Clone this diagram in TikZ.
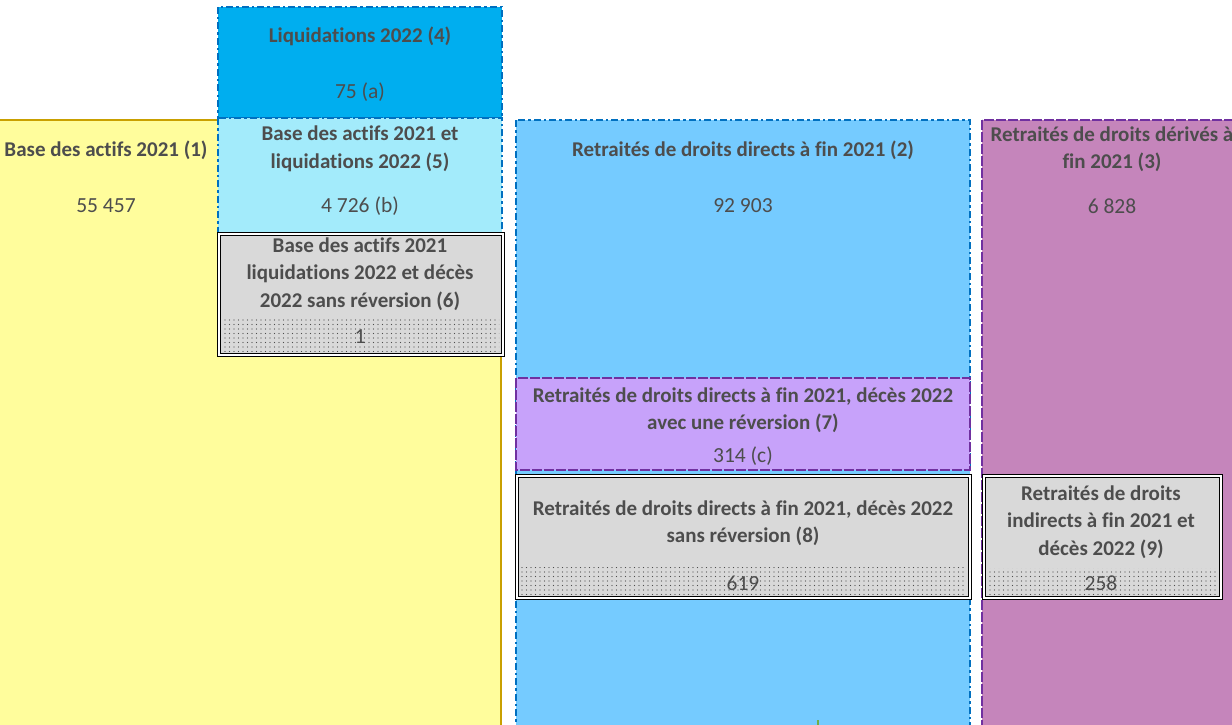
\documentclass[tikz,border=0pt]{standalone}
\usepackage{fontspec}
\setmainfont[Ligatures=NoCommon]{Carlito}
\usetikzlibrary{patterns.meta}
\definecolor{txt}{HTML}{4D4D4D}
\definecolor{yfill}{HTML}{FFFD9C}
\definecolor{yline}{HTML}{C9A000}
\definecolor{bline}{HTML}{0070C0}
\definecolor{b4fill}{HTML}{00AEEF}
\definecolor{b5fill}{HTML}{A3EBFB}
\definecolor{b2fill}{HTML}{75CBFF}
\definecolor{pfill}{HTML}{C585BB}
\definecolor{pline}{HTML}{7030A0}
\definecolor{p7fill}{HTML}{C7A2FA}
\definecolor{gfill}{HTML}{D9D9D9}
\definecolor{tick}{HTML}{70AD47}
\tikzset{
  ttl/.style={text=txt, align=center, inner sep=0pt, font=\bfseries\fontsize{21}{27.5}\selectfont},
  num/.style={text=txt, align=center, inner sep=0pt, font=\fontsize{21.5}{24}\selectfont},
  bluebox/.style={draw=bline, line width=1.3pt, dash pattern=on 7pt off 3pt on 2.5pt off 3pt},
  purplebox/.style={draw=pline, line width=1.3pt, dash pattern=on 10pt off 2pt},
  graybox/.style={fill=gfill, draw=black, line width=1.4pt, double=white, double distance=1.1pt},
  dotband/.style={pattern={Dots[distance=4.5pt, radius=0.7pt]}, pattern color=black!70}
}
\begin{document}
\begin{tikzpicture}[x=1pt,y=-1pt]
\useasboundingbox (0,0) rectangle (1232,725);
\clip (0,0) rectangle (1232,725);
\fill[white] (0,0) rectangle (1232,725);
% (1) yellow
\path[fill=yfill] (-5,120) rectangle (501,740);
\draw[yline, line width=1.5pt] (-5,120) -- (501,120) -- (501,740);
% (2) blue
\path[fill=b2fill, bluebox] (516,120) rectangle (970,740);
% (3) purple
\path[fill=pfill, purplebox] (982,120) rectangle (1250,740);
% (4)
\path[fill=b4fill, bluebox] (218,7) rectangle (502,118);
% (5)
\path[fill=b5fill, bluebox] (218,118) rectangle (502,233);
% (6)
\path[graybox] (219,234) rectangle (503,355);
\path[dotband] (223,318) rectangle (499,351);
% (7)
\path[fill=p7fill, purplebox] (516,378) rectangle (970,470);
% (8)
\path[graybox] (517,476) rectangle (970,598);
\path[dotband] (521,567) rectangle (966,594);
% (9)
\path[graybox] (984,476) rectangle (1221,598);
\path[dotband] (988,568) rectangle (1217,594);
% green tick
\coordinate (tk1) at (818,720);
\coordinate (tk2) at (818,726);
\draw[tick, line width=1.5pt] (tk1) -- (tk2);
% texts
\node[ttl] (t1) at (106,150) {Base des actifs 2021 (1)};
\node[num] (n1) at (106,206) {55 457};
\node[ttl] (t4) at (360,36) {Liquidations 2022 (4)};
\node[num] (n4) at (360,92) {75 (a)};
\node[ttl] (t5) at (360,149) {Base des actifs 2021 et\\liquidations 2022 (5)};
\node[num] (n5) at (360,206) {4 726 (b)};
\node[ttl] (t6) at (360,274) {Base des actifs 2021\\liquidations 2022 et décès\\2022 sans réversion (6)};
\node[num] (n6) at (360,337) {1};
\node[ttl] (t2) at (743,150) {Retraités de droits directs à fin 2021 (2)};
\node[num] (n2) at (743,206) {92 903};
\node[ttl] (t3) at (1112,149) {Retraités de droits dérivés à\\fin 2021 (3)};
\node[num] (n3) at (1112,206) {6 828};
\node[ttl] (t7) at (743,410) {Retraités de droits directs à fin 2021, décès 2022\\avec une réversion (7)};
\node[num] (n7) at (743,456) {314 (c)};
\node[ttl] (t8) at (743,523) {Retraités de droits directs à fin 2021, décès 2022\\sans réversion (8)};
\node[num] (n8) at (743,583) {619};
\node[ttl] (t9) at (1101,522) {Retraités de droits\\indirects à fin 2021 et\\décès 2022 (9)};
\node[num] (n9) at (1101,583) {258};
\end{tikzpicture}
\end{document}
